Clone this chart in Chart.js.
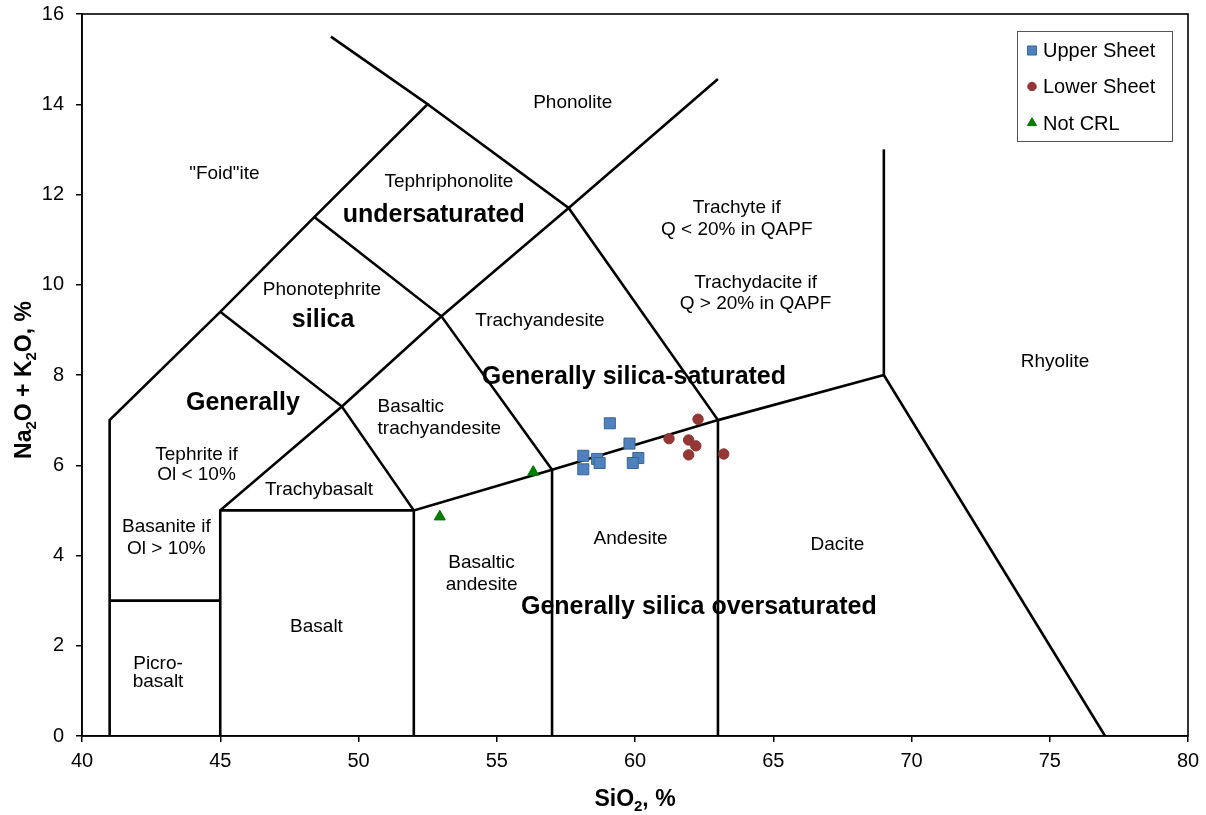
<!DOCTYPE html>
<html><head><meta charset="utf-8">
<script src="https://cdn.jsdelivr.net/npm/chart.js@4/dist/chart.umd.min.js"></script>
<style>html,body{margin:0;padding:0;background:#fff;}#wrap{width:1206px;height:815px;}</style>
</head><body><div id="wrap"><canvas id="c" width="1206" height="815"></canvas></div>
<script>
// ---- data ----
const upperSio2 = [59.09, 59.80, 58.13, 58.63, 58.72, 60.12, 59.92, 58.13];
const upperAlk  = [6.93, 6.48, 6.21, 6.14, 6.05, 6.16, 6.05, 5.91];
const lowerSio2 = [62.28, 61.23, 61.94, 62.20, 61.94, 63.21];
const lowerAlk  = [7.02, 6.59, 6.56, 6.43, 6.23, 6.25];
const notCrlSio2 = [56.32, 52.94];
const notCrlAlk  = [5.85, 4.86];
const seriesNames = ['Upper Sheet', 'Lower Sheet', 'Not CRL'];
const xTickValues = [40, 45, 50, 55, 60, 65, 70, 75, 80];
const yTickValues = [0, 2, 4, 6, 8, 10, 12, 14, 16];
// TAS field boundaries [SiO2, Na2O+K2O]
const boundaryLines = [
  [[41,0],[41,7],[45,9.4],[48.4,11.5],[52.5,14],[49,15.5]],
  [[41,3],[45,3]],
  [[45,0],[45,5],[49.4,7.3],[53,9.3],[57.6,11.7],[63,14.56]],
  [[45,5],[52,5],[57,5.9],[63,7],[69,8],[77,0]],
  [[52,0],[52,5]],
  [[57,0],[57,5.9]],
  [[63,0],[63,7],[57.6,11.7],[52.5,14]],
  [[52,5],[49.4,7.3],[45,9.4]],
  [[57,5.9],[53,9.3],[48.4,11.5]],
  [[69,8],[69,13]]
];
// field names [text, SiO2, alkali, bold, align]
const fieldLabels = [
  ['Phonolite', 57.75, 14.03, false, 'center'],
  ['"Foid"ite', 45.15, 12.47, false, 'center'],
  ['Tephriphonolite', 53.27, 12.29, false, 'center'],
  ['undersaturated', 52.72, 11.55, true, 'center'],
  ['Phonotephrite', 48.68, 9.88, false, 'center'],
  ['silica', 48.72, 9.22, true, 'center'],
  ['Trachyandesite', 56.56, 9.20, false, 'center'],
  ['Trachyte if', 63.68, 11.70, false, 'center'],
  ['Q < 20% in QAPF', 63.68, 11.22, false, 'center'],
  ['Trachydacite if', 64.36, 10.05, false, 'center'],
  ['Q > 20% in QAPF', 64.36, 9.57, false, 'center'],
  ['Rhyolite', 75.19, 8.29, false, 'center'],
  ['Generally silica-saturated', 59.96, 7.96, true, 'center'],
  ['Generally', 45.82, 7.37, true, 'center'],
  ['Basaltic', 50.69, 7.30, false, 'left'],
  ['trachyandesite', 50.69, 6.80, false, 'left'],
  ['Tephrite if', 44.14, 6.24, false, 'center'],
  ['Ol < 10%', 44.14, 5.78, false, 'center'],
  ['Trachybasalt', 48.57, 5.45, false, 'center'],
  ['Basanite if', 43.05, 4.64, false, 'center'],
  ['Ol > 10%', 43.05, 4.14, false, 'center'],
  ['Andesite', 59.84, 4.38, false, 'center'],
  ['Dacite', 67.32, 4.24, false, 'center'],
  ['Basaltic', 54.45, 3.85, false, 'center'],
  ['andesite', 54.45, 3.36, false, 'center'],
  ['Generally silica oversaturated', 62.31, 2.86, true, 'center'],
  ['Basalt', 48.48, 2.42, false, 'center'],
  ['Picro-', 42.75, 1.61, false, 'center'],
  ['basalt', 42.75, 1.20, false, 'center']
];
const xTitleParts = [['SiO',0],['2',1],[', %',0]];
const yTitleParts = [['Na',0],['2',1],['O + K',0],['2',1],['O, %',0]];

// ---- build datasets ----
const FONT = '"Liberation Sans", Arial, sans-serif';
const toPts = (xs, ys) => xs.map((x, i) => ({x: x, y: ys[i]}));
const pointSets = [
  {label: seriesNames[0], data: toPts(upperSio2, upperAlk), pointStyle: 'rect', pointRadius: 7.8,
   backgroundColor: '#4F81BD', borderColor: '#3B6496', borderWidth: 1, showLine: false, order: 0},
  {label: seriesNames[1], data: toPts(lowerSio2, lowerAlk), pointStyle: 'circle', pointRadius: 5.2,
   backgroundColor: '#953735', borderColor: '#8A3432', borderWidth: 1, showLine: false, order: 0},
  {label: seriesNames[2], data: toPts(notCrlSio2, notCrlAlk), pointStyle: 'triangle', pointRadius: 6.4,
   backgroundColor: '#008000', borderColor: '#007000', borderWidth: 1, showLine: false, order: 0}
];
const lineSets = boundaryLines.map(l => ({
  label: '', data: l.map(p => ({x: p[0], y: p[1]})), showLine: true, pointRadius: 0,
  borderColor: '#000', borderWidth: 2.6, fill: false, tension: 0, order: 10, isBoundary: true,
  borderCapStyle: 'butt', borderJoinStyle: 'miter'
}));

function drawRich(ctx, parts, size) {
  let w = 0;
  const subSize = Math.round(size * 0.65);
  parts.forEach(p => { ctx.font = 'bold ' + (p[1] ? subSize : size) + 'px ' + FONT; w += ctx.measureText(p[0]).width; });
  let x = -w / 2;
  parts.forEach(p => {
    ctx.font = 'bold ' + (p[1] ? subSize : size) + 'px ' + FONT;
    ctx.fillText(p[0], x, p[1] ? size * 0.28 : 0);
    x += ctx.measureText(p[0]).width;
  });
}

const decor = {
  id: 'decor',
  beforeDatasetsDraw(chart) {
    const ctx = chart.ctx, xs = chart.scales.x, ys = chart.scales.y;
    ctx.save();
    ctx.fillStyle = '#000';
    ctx.textBaseline = 'middle';
    fieldLabels.forEach(l => {
      ctx.font = (l[3] ? 'bold 25px ' : '19px ') + FONT;
      ctx.textAlign = l[4];
      ctx.fillText(l[0], xs.getPixelForValue(l[1]), ys.getPixelForValue(l[2]));
    });
    ctx.restore();
  },
  afterDraw(chart) {
    const ctx = chart.ctx, a = chart.chartArea;
    ctx.save();
    // plot frame
    ctx.strokeStyle = '#000'; ctx.lineWidth = 1.6;
    ctx.strokeRect(a.left, a.top, a.right - a.left, a.bottom - a.top);
    // legend
    const lx = 1017.5, ly = 31.5, lw = 155, lh = 110;
    ctx.fillStyle = '#fff'; ctx.fillRect(lx, ly, lw, lh);
    ctx.strokeStyle = '#555'; ctx.lineWidth = 1; ctx.strokeRect(lx, ly, lw, lh);
    const rows = [50.5, 86.5, 123];
    chart.data.datasets.forEach((d, i) => {
      if (d.isBoundary) return;
      const y = rows[i];
      ctx.fillStyle = d.backgroundColor; ctx.strokeStyle = d.borderColor; ctx.lineWidth = 1;
      Chart.helpers.drawPoint(ctx, {pointStyle: d.pointStyle, radius: d.pointRadius * 0.82, borderWidth: d.borderWidth},
        1032, y);
      ctx.fillStyle = '#000';
      ctx.font = '20px ' + FONT; ctx.textAlign = 'left'; ctx.textBaseline = 'middle';
      ctx.fillText(d.label, 1043, y + 1);
    });
    // axis titles
    ctx.fillStyle = '#000'; ctx.textBaseline = 'middle'; ctx.textAlign = 'left';
    ctx.save(); ctx.translate((a.left + a.right) / 2, 800); drawRich(ctx, xTitleParts, 23); ctx.restore();
    ctx.save(); ctx.translate(25, 380); ctx.rotate(-Math.PI / 2); drawRich(ctx, yTitleParts, 23); ctx.restore();
    ctx.restore();
  }
};

const zeroPad = s => { s.paddingTop = 0; s.paddingBottom = 0; s.paddingLeft = 0; s.paddingRight = 0; };

new Chart(document.getElementById('c'), {
  type: 'scatter',
  data: {datasets: pointSets.concat(lineSets)},
  options: {
    responsive: false, animation: false, devicePixelRatio: 1,
    layout: {padding: {top: 14, right: 18, bottom: 0, left: 0}},
    plugins: {legend: {display: false}, tooltip: {enabled: false}},
    scales: {
      x: {
        type: 'linear', min: 40, max: 80,
        afterBuildTicks: s => { s.ticks = xTickValues.map(v => ({value: v})); },
        ticks: {font: {family: FONT, size: 20}, color: '#000', padding: 7, maxRotation: 0, autoSkip: false},
        grid: {drawOnChartArea: false, drawTicks: true, tickLength: 6, color: '#000', lineWidth: 1.5},
        border: {display: true, color: '#000', width: 1.6},
        afterFit: s => { s.height = 79; zeroPad(s); }
      },
      y: {
        type: 'linear', min: 0, max: 16,
        afterBuildTicks: s => { s.ticks = yTickValues.map(v => ({value: v})); },
        ticks: {font: {family: FONT, size: 20}, color: '#000', padding: 12, autoSkip: false},
        grid: {drawOnChartArea: false, drawTicks: true, tickLength: 6, color: '#000', lineWidth: 1.5},
        border: {display: true, color: '#000', width: 1.6},
        afterFit: s => { s.width = 82; zeroPad(s); }
      }
    }
  },
  plugins: [decor]
});
</script>
</body></html>
